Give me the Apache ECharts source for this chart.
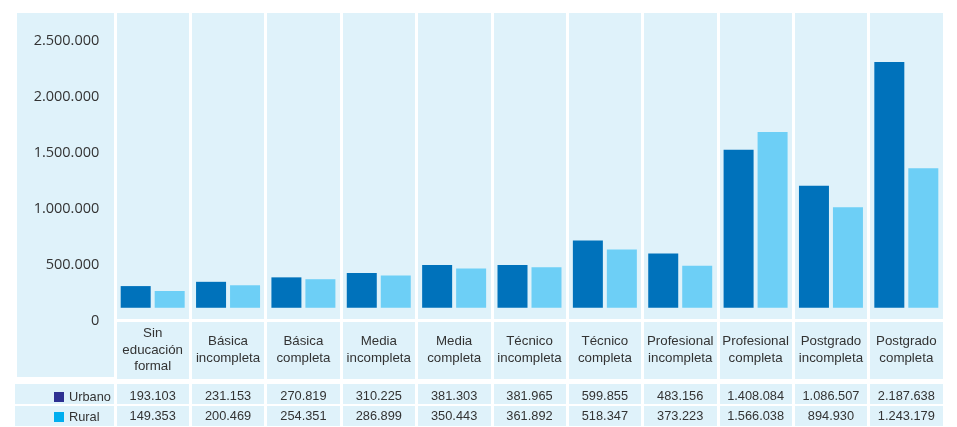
<!DOCTYPE html>
<html>
<head>
<meta charset="utf-8">
<script src="https://cdn.jsdelivr.net/npm/echarts@6/dist/echarts.min.js"></script>
<style>
    html, body { margin: 0; padding: 0; background: #fff; }
    #main { width: 957px; height: 427px; }
</style>
</head>
<body>
<div id="main"></div>
<script>
// datos
var categorias = ['Sin\neducación\nformal', 'Básica\nincompleta', 'Básica\ncompleta', 'Media\nincompleta', 'Media\ncompleta',
    'Técnico\nincompleta', 'Técnico\ncompleta', 'Profesional\nincompleta', 'Profesional\ncompleta', 'Postgrado\nincompleta', 'Postgrado\ncompleta'];
var urbano = [193103, 231153, 270819, 310225, 381303, 381965, 599855, 483156, 1408084, 1086507, 2187638];
var rural = [149353, 200469, 254351, 286899, 350443, 361892, 518347, 373223, 1566038, 894930, 1243179];
var ticksEje = [0, 500000, 1000000, 1500000, 2000000, 2500000];

var fondo = '#dff2fa';
var sans = "'Liberation Sans', Arial, sans-serif";
var texto = '#333';

function puntos(v) {
    return String(v).replace(/\B(?=(\d{3})+(?!\d))/g, '.');
}

var sep = {show: true, interval: 0, lineStyle: {color: '#fff', width: 3}};
var oculto = {show: false};
var filas = {
    type: 'value', min: 0, max: 2, interval: 1,
    axisLine: oculto, axisTick: oculto, axisLabel: oculto,
    splitLine: {show: true, lineStyle: {color: '#fff', width: 2}}
};

var myChart = echarts.init(document.getElementById('main'));
var option = {
    animation: false,
    legend: {
        orient: 'vertical',
        left: 54,
        top: 390,
        padding: 0,
        itemGap: 6,
        itemWidth: 10,
        itemHeight: 10,
        icon: 'rect',
        selectedMode: false,
        textStyle: {fontFamily: sans, fontSize: 12.8, lineHeight: 14, color: texto},
        data: [
            {name: 'Urbano', itemStyle: {color: '#2e3192'}},
            {name: 'Rural', itemStyle: {color: '#00aeef'}}
        ]
    },
    grid: [
        // barras
        {left: 115, right: 13, top: 13, bottom: 108, show: true, backgroundColor: fondo, borderWidth: 0},
        // columna del eje
        {left: 17, width: 97, top: 13, height: 364, show: true, backgroundColor: fondo, borderWidth: 0},
        // nombres de categorias
        {left: 115, right: 13, top: 322, height: 57, show: true, backgroundColor: fondo, borderWidth: 0},
        // tabla
        {left: 115, right: 13, top: 383, bottom: -3, show: true, backgroundColor: fondo, borderWidth: 0},
        // leyenda de la tabla
        {left: 15, width: 99, top: 383, bottom: -3, show: true, backgroundColor: fondo, borderWidth: 0}
    ],
    xAxis: [
        {gridIndex: 0, type: 'category', data: categorias, axisLine: oculto, axisTick: oculto, axisLabel: oculto, splitLine: sep},
        {gridIndex: 1, type: 'category', show: false},
        {
            gridIndex: 2, type: 'category', data: categorias, position: 'top',
            axisLine: oculto, axisTick: oculto, splitLine: sep,
            axisLabel: {
                inside: true, interval: 0, margin: 28, verticalAlign: 'middle',
                fontFamily: sans, fontSize: 13.3, lineHeight: 16.5, color: texto
            }
        },
        {
            gridIndex: 3, type: 'category', data: categorias, position: 'top',
            axisLine: oculto, axisTick: oculto, splitLine: sep,
            axisLabel: {
                inside: true, interval: 0, margin: 23.5, verticalAlign: 'middle',
                fontFamily: sans, fontSize: 12.8, lineHeight: 20, color: texto,
                formatter: function (v, i) {
                    return puntos(urbano[i]) + '\n' + puntos(rural[i]);
                }
            }
        },
        {gridIndex: 4, type: 'category', show: false}
    ],
    yAxis: [
        {
            gridIndex: 0, type: 'value', min: -100000, max: 2625000,
            axisLine: oculto, axisTick: oculto, splitLine: oculto,
            axisLabel: {
                margin: 15.7, verticalAlign: 'top', lineHeight: 15, padding: [6, 0, 0, 0],
                fontFamily: "'Open Sans', sans-serif", fontSize: 14.5, color: texto,
                formatter: function (v) {
                    return ticksEje.indexOf(v) >= 0 ? puntos(v) : '';
                }
            }
        },
        {gridIndex: 1, type: 'value', show: false},
        {gridIndex: 2, type: 'value', show: false},
        Object.assign({gridIndex: 3}, filas),
        Object.assign({gridIndex: 4}, filas)
    ],
    series: [
        {name: 'Urbano', type: 'bar', data: urbano, barWidth: 30, barGap: '13.3%', itemStyle: {color: '#0072bb'}},
        {name: 'Rural', type: 'bar', data: rural, barWidth: 30, barGap: '13.3%', itemStyle: {color: '#6dcff6'}}
    ]
};
myChart.setOption(option);
</script>
</body>
</html>
